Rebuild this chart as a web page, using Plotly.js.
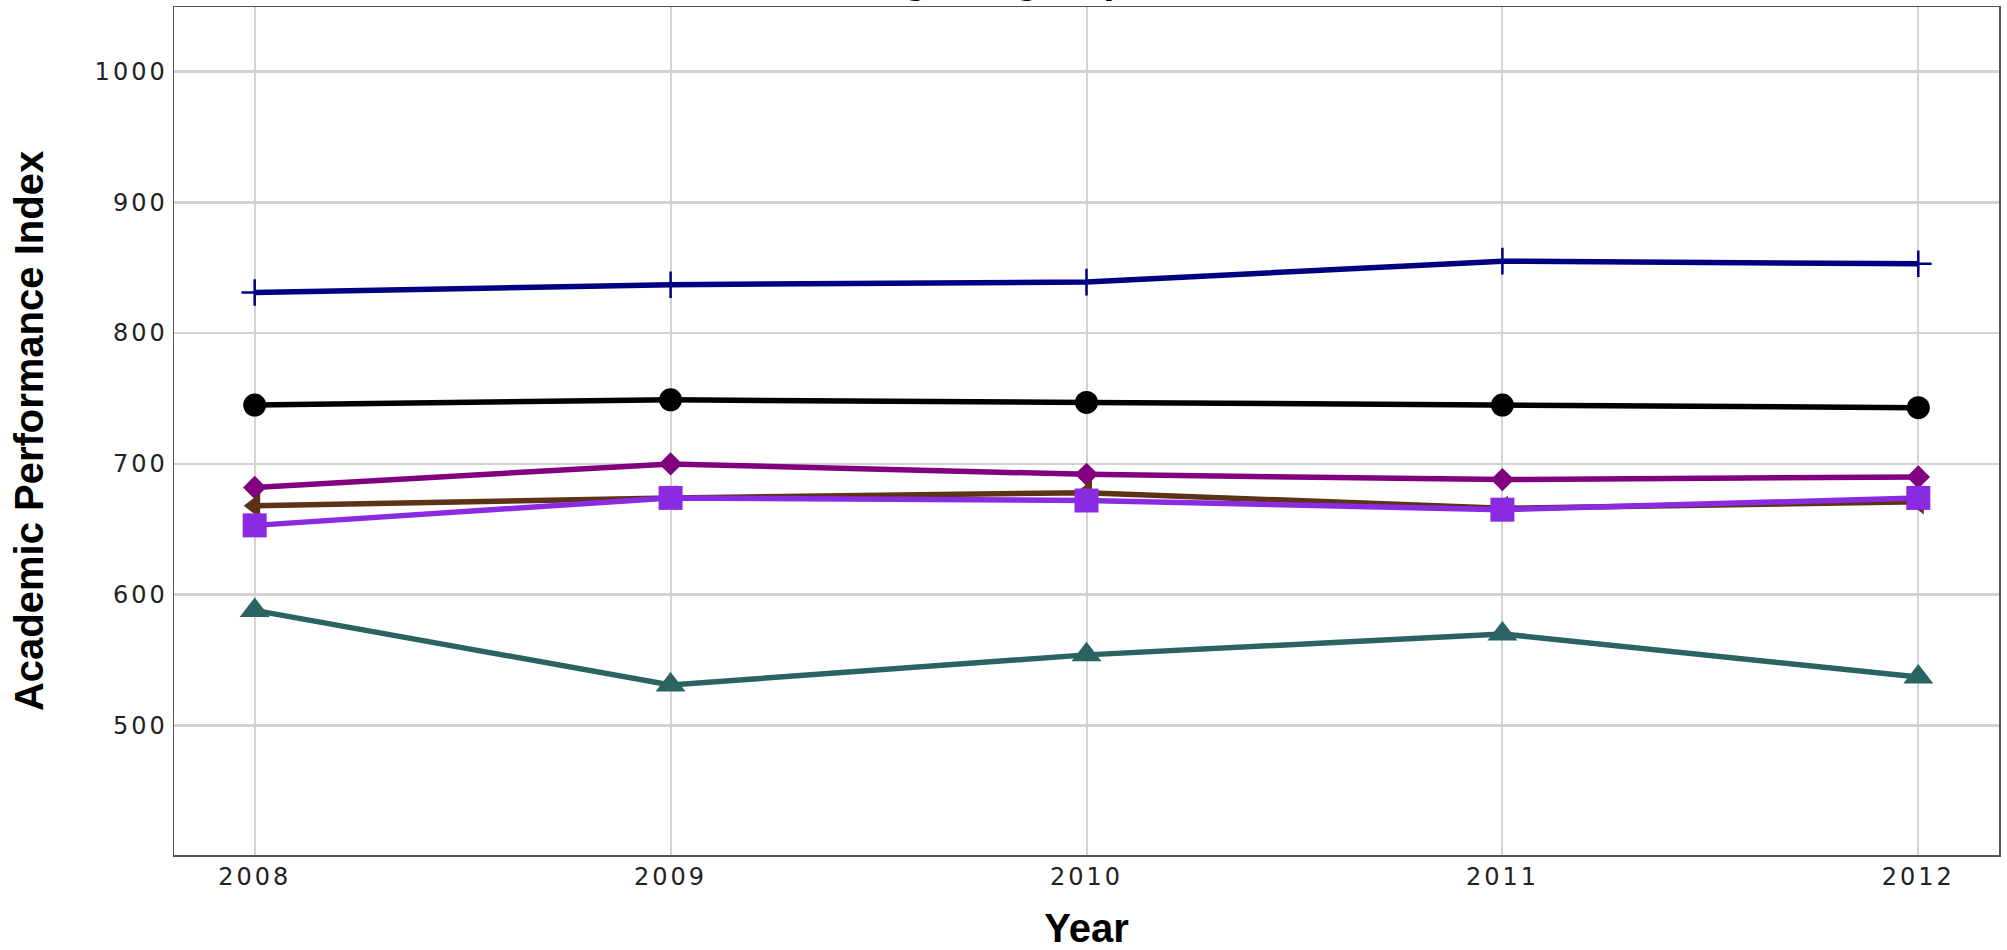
<!DOCTYPE html>
<html>
<head>
<meta charset="utf-8">
<script src="https://cdn.plot.ly/plotly-3.0.1.min.js"></script>
<style>
  html, body { margin: 0; padding: 0; background: #fff; }
  #chart { width: 2007px; height: 950px; }
  .xtick text, .ytick text { letter-spacing: 3px; }
</style>
</head>
<body>
<div id="chart"></div>
<script>
// ---- data ----
const years = [2008, 2009, 2010, 2011, 2012];
const yearLabels = ['2008', '2009', '2010', '2011', '2012'];

const seriesNames = ['Series 1', 'Series 2', 'Series 3', 'Series 4', 'Series 5', 'Series 6'];
const navyValues        = [831, 837, 839, 855, 853];
const blackValues       = [745, 749, 747, 745, 743];
const purpleValues      = [682, 700, 692, 688, 690];
const brownValues       = [668, 674, 678, 666, 671];
const blueVioletValues  = [653, 674, 672, 665, 674];
const tealValues        = [588, 531, 554, 570, 537];

const yTickVals = [500, 600, 700, 800, 900, 1000];
const yTickText = ['500', '600', '700', '800', '900', '1000'];

const titleText = 'API Scores Among Subgroups';
const xTitleText = 'Year';
const yTitleText = 'Academic Performance Index';

// ---- styles ----
const styles = [
  { values: navyValues,       color: '#000080', symbol: 'cross-thin', size: 19, lineW: 2.5 },
  { values: blackValues,      color: '#000000', symbol: 'circle',     size: 23, lineW: 0 },
  { values: purpleValues,     color: '#800080', symbol: 'diamond',    size: 18, lineW: 0 },
  { values: brownValues,      color: '#5C3317', symbol: 'triangle-left', size: 22, lineW: 0 },
  { values: blueVioletValues, color: '#8A2BE2', symbol: 'square',     size: 24, lineW: 0 },
  { values: tealValues,       color: '#2B6262', symbol: 'triangle-up', size: 26, lineW: 0 }
];

const traces = styles.map((s, i) => ({
  type: 'scatter',
  mode: 'lines+markers',
  name: seriesNames[i],
  x: years,
  y: s.values,
  line: { color: s.color, width: 5.5 },
  marker: {
    symbol: s.symbol,
    size: s.size,
    color: s.color,
    line: { color: s.color, width: s.lineW }
  },
  cliponaxis: false
}));

const layout = {
  width: 2007,
  height: 950,
  paper_bgcolor: '#ffffff',
  plot_bgcolor: '#ffffff',
  showlegend: false,
  margin: { l: 174, r: 8, t: 7, b: 95, pad: 0 },
  title: {
    text: titleText,
    font: { family: 'Liberation Sans, Arial, sans-serif', size: 40, color: '#000', weight: 'bold' },
    xref: 'container', x: 1150 / 2007, xanchor: 'right',
    yref: 'container', y: 1, yanchor: 'bottom',
    pad: { b: 7 }
  },
  xaxis: {
    range: [2007.806, 2012.194],
    tickvals: years,
    ticktext: yearLabels,
    showgrid: true,
    gridcolor: '#d3d3d3',
    gridwidth: 2,
    zeroline: false,
    showline: true,
    mirror: true,
    linecolor: '#555555',
    linewidth: 1.5,
    ticks: '',
    automargin: false,
    tickfont: { family: 'DejaVu Sans, sans-serif', size: 24, color: '#222' },
    title: {
      text: xTitleText,
      font: { family: 'Liberation Sans, Arial, sans-serif', size: 40, color: '#000', weight: 'bold' },
      standoff: 34
    }
  },
  yaxis: {
    range: [401, 1049.3],
    tickvals: yTickVals,
    ticktext: yTickText,
    showgrid: true,
    gridcolor: '#d3d3d3',
    gridwidth: 2.5,
    zeroline: false,
    showline: true,
    mirror: true,
    linecolor: '#555555',
    linewidth: 1.5,
    ticks: '',
    automargin: false,
    tickfont: { family: 'DejaVu Sans, sans-serif', size: 24, color: '#222' },
    title: {
      text: yTitleText,
      font: { family: 'Liberation Sans, Arial, sans-serif', size: 40, color: '#000', weight: 'bold' },
      standoff: 38
    }
  }
};

Plotly.newPlot('chart', traces, layout, { displayModeBar: false, staticPlot: true });
</script>
</body>
</html>
